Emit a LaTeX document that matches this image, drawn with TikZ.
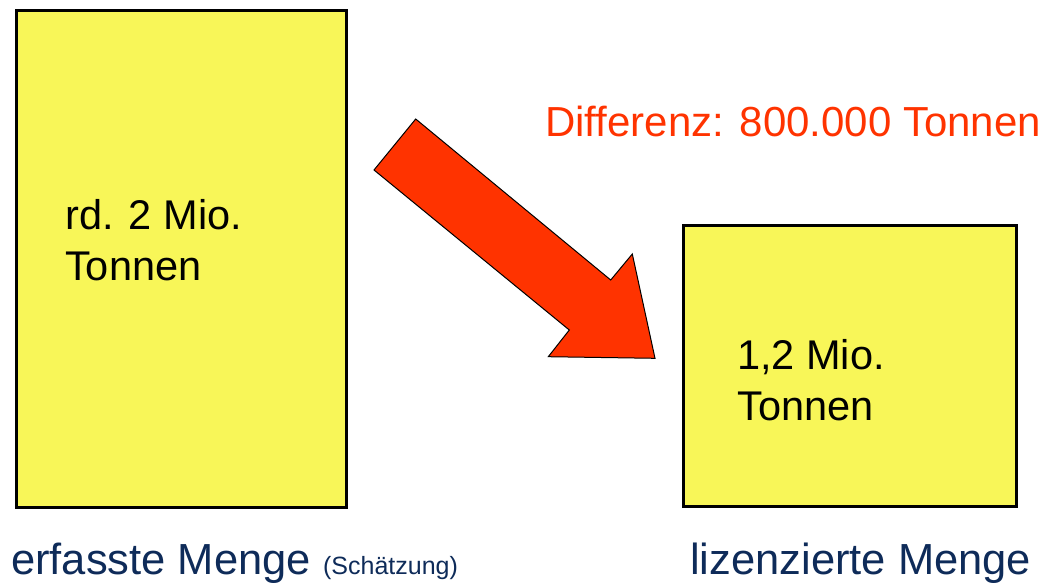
\documentclass[tikz,border=0pt]{standalone}
\usepackage{fontspec}
\setmainfont{Liberation Sans}
\usepackage{tikz}
\definecolor{gelb}{RGB}{248,246,88}
\definecolor{rotorange}{RGB}{255,51,0}
\definecolor{dunkelblau}{RGB}{14,43,89}
\tikzset{
  kasten/.style={draw=black, line width=2.5pt, fill=gelb, inner sep=0pt, anchor=north west},
  kastentext/.style={anchor=base west, inner sep=0pt, font=\fontsize{41.5}{48}\selectfont},
  unterschrift/.style={anchor=base west, inner sep=0pt, text=dunkelblau, font=\fontsize{43.5}{49}\selectfont}
}
\begin{document}
\begin{tikzpicture}[x=1pt,y=-1pt]
\useasboundingbox (0,0) rectangle (1048,584);
% gelbe Kaesten
\node[kasten, minimum width=330pt, minimum height=497pt] (erfasst) at (15,9) {};
\node[kasten, minimum width=333pt, minimum height=281pt] (lizenz) at (682,224) {};
% Mengen
\node[kastentext] (erfasst1) at (65,229) {rd. 2 Mio.};
\node[kastentext] (erfasst2) at (65,280) {Tonnen};
\node[kastentext] (lizenz1) at (737,369) {1,2 Mio.};
\node[kastentext] (lizenz2) at (737,420) {Tonnen};
% Pfeil
\filldraw[fill=rotorange, draw=black, line width=1pt, line join=miter]
  (415.7,119) -- (374,170) -- (569.3,330) -- (548.3,356.7) -- (655,358.3)
  -- (632.3,254) -- (610.7,280) -- cycle;
\node[anchor=base west, inner sep=0pt, text=rotorange, font=\fontsize{42}{49}\selectfont] (differenz) at (545,136) {Differenz: 800.000 Tonnen};
% Beschriftung unten
\node[unterschrift] (erfasstlabel) at (11,574) {erfasste Menge {\fontsize{25}{29}\selectfont(Schätzung)}};
\node[unterschrift] (lizenzlabel) at (690,574) {lizenzierte Menge};
\end{tikzpicture}
\end{document}
